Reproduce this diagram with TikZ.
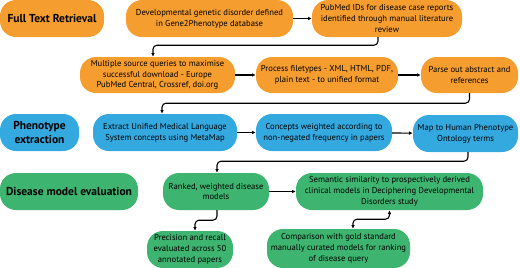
\documentclass[tikz,border=0pt]{standalone}
\usepackage{fontspec}
\setmainfont{PT Sans}
\usetikzlibrary{arrows.meta}
\definecolor{org}{RGB}{245,157,46}
\definecolor{blu}{RGB}{52,169,224}
\definecolor{grn}{RGB}{61,180,111}
\tikzset{
  box/.style={rounded corners=16bp, inner sep=0pt, align=center, text=black,
    font=\fontsize{8.6bp}{10.8bp}\selectfont},
  head/.style={box, font=\fontsize{11.5bp}{13.5bp}\selectfont\bfseries},
  ob/.style={fill=org}, bb/.style={fill=blu}, gb/.style={fill=grn},
  conn/.style={draw=black, line width=1.1bp, rounded corners=4bp,
    -{Latex[length=3.8bp,width=3.8bp]}},
  dconn/.style={conn, {Latex[length=3.8bp,width=3.8bp]}-{Latex[length=3.8bp,width=3.8bp]}}
}
\newcommand{\bx}[8]{% name, style, x1, x2, y1, y2, text
  \node[#2, minimum width=#4bp-#3bp, minimum height=#6bp-#5bp] (#1) at ({(#3+#4)/2},{(#5+#6)/2}) {#7};}
\begin{document}
\begin{tikzpicture}[x=1bp,y=-1bp]
\useasboundingbox (0,0) rectangle (520,267);
% row 1
\bx{ftr}{head,ob}{0}{104}{0}{37}{Full Text Retrieval}{}
\bx{dev}{box,ob}{126}{293}{0}{37}{Developmental genetic disorder defined\\in Gene2Phenotype database}{}
\bx{pub}{box,ob}{312}{462}{0}{37}{PubMed IDs for disease case reports\\identified through manual literature\\review}{}
% row 2
\bx{mult}{box,ob}{80}{235}{57}{93}{Multiple source queries to maximise\\successful download - Europe\\PubMed Central, Crossref, doi.org}{}
\bx{proc}{box,ob}{256}{398}{57}{93}{Process filetypes - XML, HTML, PDF,\\plain text - to unified format}{}
\bx{pars}{box,ob}{421}{518}{57}{93}{Parse out abstract and\\references}{}
% row 3
\bx{phe}{head,bb}{0}{79}{114}{151}{Phenotype\\extraction}{}
\bx{ext}{box,bb}{93}{237}{114}{151}{Extract Unified Medical Language\\System concepts using MetaMap}{}
\bx{con}{box,bb}{256}{392}{114}{151}{Concepts weighted according to\\non-negated frequency in papers}{}
\bx{map}{box,bb}{413}{518}{115}{152}{Map to Human Phenotype\\Ontology terms}{}
% row 4
\bx{dis}{head,gb}{0}{138}{173}{210}{Disease model evaluation}{}
\bx{rank}{box,gb}{163}{269}{173}{210}{Ranked, weighted disease\\models}{}
\bx{sem}{box,gb}{296}{483}{173}{210}{Semantic similarity to prospectively derived\\clinical models in Deciphering Developmental\\Disorders study}{}
\bx{prec}{box,gb}{147}{233}{231}{268}{Precision and recall\\evaluated across 50\\annotated papers}{}
\bx{comp}{box,gb}{267}{410}{229}{268}{Comparison with gold standard\\manually curated models for ranking\\of disease query}{}
% connectors
\draw[conn] (dev) -- (pub);
\draw[conn] ([xshift=-9bp]pub.south) -- ++(0,8) -| ([xshift=-4.5bp]mult.north);
\draw[conn] (mult) -- (proc);
\draw[conn] (proc) -- (pars);
\draw[conn] (pars.south) -- ++(0,10) -| ([xshift=-3bp]ext.north);
\draw[conn] (ext) -- (con);
\draw[conn] (con) -- (map);
\draw[conn] ([xshift=2.5bp]map.south) -- ++(0,9) -| ([xshift=1bp]rank.north);
\draw[conn] (rank) -- (sem);
\draw[conn] ([xshift=1bp]rank.south) -- ++(0,10) -| ([xshift=5bp]prec.north);
\draw[dconn] (sem.south) -- ++(0,9) -| ([xshift=14.5bp]comp.north);
\end{tikzpicture}
\end{document}
